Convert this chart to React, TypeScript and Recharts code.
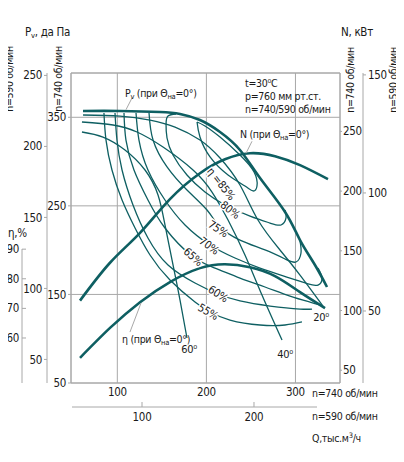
import React from "react";
import {
  CartesianGrid,
  ComposedChart,
  Line,
  ReferenceDot,
  ReferenceLine,
  XAxis,
  YAxis
} from "recharts";

type Pt = { q: number; v: number };
const pts = (rows: number[][]): Pt[] => rows.map(([q, v]) => ({ q, v }));

// Q (тыс.м3/ч, n=740) vs Pv (да Па, n=740)
const pvTheta0 = pts([
  [61.5, 357.1], [103, 357.1], [147.9, 356], [170.4, 353.7], [192.8, 346.9], [215.3, 333.4],
  [237.7, 313.1], [260.2, 281.4], [288.3, 243.1], [305.1, 211.4], [321.9, 183.2], [335.4, 158.4]
]);
const pvTheta20 = pts([
  [61.5, 352.6], [103, 351.4], [136.7, 346.9], [164.8, 339], [192.8, 324.3], [215.3, 304],
  [237.7, 273.5], [257.9, 234], [282.6, 200.2], [305.1, 171.9], [330.9, 136.9]
]);
const pvTheta40 = pts([
  [60.3, 344.7], [95.2, 341.3], [122.1, 333.4], [151.3, 316.4], [185, 290.5], [206.3, 265.6],
  [224.3, 234], [243.3, 194.5], [262.4, 149.4], [284.9, 98.5]
]);
const pvTheta60 = pts([
  [60.3, 333.4], [83.9, 327.7], [108.6, 313.1], [131.1, 290.5], [145.7, 262.3], [153.5, 228.4],
  [161.4, 188.9], [170.4, 143.7], [178.2, 100.8]
]);

// iso-efficiency lines
const eta85 = pts([
  [189.5, 344.7], [192.8, 327.7], [204.1, 305.2], [224.3, 284.8], [243.3, 272.4], [252.3, 266.8],
  [256.8, 272.4], [253.5, 288.2], [237.7, 307.4], [215.3, 327.7], [198.4, 340.2], [189.5, 344.7]
]);
const eta80 = pts([
  [165.9, 353.7], [156.9, 351.4], [154.7, 342.4], [155.8, 326.6], [162.5, 307.4], [178.2, 284.8],
  [198.4, 265.6], [220.9, 251], [249, 238.5], [271.4, 230.6], [283.8, 228.4], [289.4, 236.3], [288.3, 245.3]
]);
const eta75 = pts([
  [135.6, 354.8], [140.1, 324.3], [155.8, 293.9], [178.2, 267.9], [200.7, 245.3], [215.3, 226.1],
  [237.7, 211.4], [265.8, 200.2], [288.3, 190], [300.6, 186.6], [306.2, 196.8], [305.1, 210.3]
]);
const eta70 = pts([
  [121, 354.8], [124.3, 324.3], [134.4, 290.5], [153.5, 256.6], [176, 228.4], [204.1, 205.8],
  [232.1, 191.1], [260.2, 179.8], [293.9, 168.5], [314.1, 161.8], [325.3, 160.6], [329.8, 168.5], [325.3, 179.8]
]);
const eta65 = pts([
  [107.5, 354.8], [109.7, 324.3], [118.7, 290.5], [134.4, 256.6], [153.5, 225], [183.8, 193.4],
  [209.7, 179.8], [237.7, 168.5], [265.8, 158.4], [293.9, 148.2], [316.3, 141.4], [327.5, 138.1]
]);
const eta60 = pts([
  [97.4, 354.8], [99.6, 324.3], [105.3, 290.5], [117.6, 251], [134.4, 213.7], [156.9, 183.2],
  [187.2, 162.9], [213, 150.5], [237.7, 142.6], [271.4, 136.9], [305.1, 133.5], [318.6, 133.5]
]);
const eta55 = pts([
  [85, 354.8], [87.3, 324.3], [94, 290.5], [105.3, 256.6], [119.9, 225], [136.7, 194.5],
  [159.1, 166.3], [187.2, 141.4], [204.1, 130.2], [226.5, 121.1], [260.2, 115.5], [288.3, 115.5], [307.3, 118.9]
]);

// Q vs N (кВт, n=740)
const nTheta0 = pts([
  [58.1, 108.3], [91.8, 140], [125.5, 165], [159.1, 193.3], [192.8, 215], [220.9, 226.7],
  [249, 231.7], [277, 229.2], [305.1, 221.7], [336.5, 210]
]);
// Q vs η (%)
const effTheta0 = pts([
  [58.1, 53.3], [91.8, 63.4], [125.5, 72.1], [159.1, 78.9], [192.8, 83.6], [220.9, 84.9],
  [249, 83.9], [277, 80.9], [305.1, 75.5], [333.2, 70.1]
]);

const isoLabels = ["η =85%", "80%", "75%", "70%", "65%", "60%", "55%"];
const isoLabelQ = [216.4, 226.5, 213, 202.9, 185, 213, 201.8];
const isoLabelP = [274.7, 245.3, 223.9, 204.7, 192.3, 150.5, 130.2];
const isoAngles = [52, 38, 33, 36, 42, 33, 30];

const thetaLabels = ["20⁰", "40⁰", "60⁰"];
const thetaLabelQ = [328.7, 288.3, 180.5];
const thetaLabelP = [124.5, 82.7, 87.3];

const qTicks740 = [100, 200, 300];
const qTicks590 = [100, 200];
const pvTicks740 = [50, 150, 250, 350];
const pvTicks590 = [50, 100, 150, 200, 250];
const etaTicks = [60, 70, 80, 90];
const nTicks740 = [50, 100, 150, 200, 250];
const nTicks590 = [50, 100, 150];

// axis ids: stacking follows the id order (first = next to the plot)
const Q740 = "a_q740";
const Q590 = "b_q590";
const PV740 = "a_pv740";
const PV590 = "b_pv590";
const ETA = "c_eta";
const N740 = "a_n740";
const N590 = "b_n590";

const TEAL = "#0e5f62";
const GRID = "#a8a8a8";
const INK = "#1a1a1a";
const FONT = "'Liberation Sans Narrow', 'DejaVu Sans Condensed', 'Arial Narrow', sans-serif";
const tickStyle = { fill: INK, fontSize: 11.5, fontFamily: FONT, letterSpacing: -0.3 };

const halo = { stroke: "#fff", strokeWidth: 3, paintOrder: "stroke" as const };

function rotated(text: string, angle: number, size = 11) {
  return (props: any) => {
    const vb = props.viewBox || {};
    const x = (vb.x ?? 0) + (vb.width ?? 0) / 2;
    const y = (vb.y ?? 0) + (vb.height ?? 0) / 2;
    return (
      <text
        x={x}
        y={y}
        transform={`rotate(${angle} ${x} ${y})`}
        textAnchor="middle"
        dominantBaseline="central"
        fontFamily={FONT}
        fontSize={size}
        letterSpacing={-0.3}
        fill={INK}
        {...halo}
      >
        {text}
      </text>
    );
  };
}

function Q590Tick(props: any) {
  const { x, y, payload } = props;
  return (
    <g>
      <line x1={x} x2={x} y1={y - 5} y2={y} stroke={GRID} />
      <text x={x} y={y + 14} textAnchor="middle" fontFamily={FONT} fontSize={11.5} letterSpacing={-0.3} fill={INK}>
        {payload.value}
      </text>
    </g>
  );
}

// η axis: dash on the inner side of the line, number to its left
function EtaTick(props: any) {
  const { y, payload } = props;
  return (
    <g>
      <line x1={22} x2={26} y1={y} y2={y} stroke={GRID} />
      <text x={19} y={y} dy="0.35em" textAnchor="end" fontFamily={FONT} fontSize={11.5} letterSpacing={-0.3} fill={INK}>
        {payload.value}
      </text>
    </g>
  );
}

function thin(data: Pt[], key: string) {
  return (
    <Line
      key={key}
      data={data}
      dataKey="v"
      xAxisId={Q740}
      yAxisId={PV740}
      type="natural"
      stroke={TEAL}
      strokeWidth={1.3}
      dot={false}
      activeDot={false}
      isAnimationActive={false}
    />
  );
}

function Sub({ children }: { children: React.ReactNode }) {
  return <tspan fontSize={7.5} dy={2}>{children}</tspan>;
}

export default function App() {
  return (
    <div style={{ position: "relative", margin: -8, width: 404, height: 462, background: "#fff" }}>
      <ComposedChart width={404} height={462} margin={{ top: 73, right: 0, bottom: 0, left: 0 }}>
        <CartesianGrid xAxisId={Q740} yAxisId={PV740} stroke={GRID} strokeWidth={1} />
        <XAxis
          xAxisId={Q740}
          dataKey="q"
          type="number"
          domain={[48, 350]}
          allowDataOverflow
          ticks={qTicks740}
          height={24}
          tickSize={3}
          tickLine={false}
          axisLine={{ stroke: GRID }}
          tick={tickStyle}
        />
        <XAxis
          xAxisId={Q590}
          dataKey="q"
          type="number"
          domain={[36.6, 276.8]}
          allowDataOverflow
          ticks={qTicks590}
          height={55}
          tickSize={0}
          tickMargin={0}
          tickLine={false}
          axisLine={false}
          tick={<Q590Tick />}
        />
        <YAxis
          yAxisId={PV740}
          orientation="left"
          type="number"
          domain={[50, 400]}
          allowDataOverflow
          ticks={pvTicks740}
          width={24}
          tickSize={3}
          axisLine={{ stroke: GRID }}
          tickLine={{ stroke: GRID }}
          tick={tickStyle}
        />
        <YAxis
          yAxisId={PV590}
          orientation="left"
          type="number"
          domain={[33.4, 251.7]}
          allowDataOverflow
          ticks={pvTicks590}
          width={25}
          tickSize={3}
          axisLine={{ stroke: GRID }}
          tickLine={{ stroke: GRID }}
          tick={tickStyle}
        />
        <YAxis
          yAxisId={ETA}
          orientation="left"
          type="number"
          domain={[44.8, 149.5]}
          allowDataOverflow
          ticks={etaTicks}
          width={22}
          tickSize={0}
          tickMargin={0}
          axisLine={false}
          tickLine={false}
          tick={<EtaTick />}
        />
        <YAxis
          yAxisId={N740}
          orientation="right"
          type="number"
          domain={[39.3, 298.9]}
          allowDataOverflow
          ticks={nTicks740}
          width={23}
          tickSize={2}
          tickMargin={1}
          axisLine={{ stroke: GRID }}
          tickLine={{ stroke: GRID }}
          tick={tickStyle}
        />
        <YAxis
          yAxisId={N590}
          orientation="right"
          type="number"
          domain={[19.5, 150.8]}
          allowDataOverflow
          ticks={nTicks590}
          width={41}
          tickSize={3}
          axisLine={{ stroke: GRID }}
          tickLine={{ stroke: GRID }}
          tick={tickStyle}
        />
        <ReferenceLine xAxisId={Q740} yAxisId={PV740} y={400} stroke={GRID} ifOverflow="visible" />

        {thin(eta55, "e55")}
        {thin(eta60, "e60")}
        {thin(eta65, "e65")}
        {thin(eta70, "e70")}
        {thin(eta75, "e75")}
        {thin(eta80, "e80")}
        {thin(eta85, "e85")}
        {thin(pvTheta20, "t20")}
        {thin(pvTheta40, "t40")}
        {thin(pvTheta60, "t60")}

        <Line data={pvTheta0} dataKey="v" xAxisId={Q740} yAxisId={PV740} type="natural" stroke={TEAL}
          strokeWidth={2.6} dot={false} activeDot={false} isAnimationActive={false} />
        <Line data={nTheta0} dataKey="v" xAxisId={Q740} yAxisId={N740} type="natural" stroke={TEAL}
          strokeWidth={2.6} dot={false} activeDot={false} isAnimationActive={false} />
        <Line data={effTheta0} dataKey="v" xAxisId={Q740} yAxisId={ETA} type="natural" stroke={TEAL}
          strokeWidth={2.6} dot={false} activeDot={false} isAnimationActive={false} />

        {/* leader lines */}
        <ReferenceLine xAxisId={Q740} yAxisId={PV740} stroke={GRID}
          segment={[{ x: 116.5, y: 371.8 }, { x: 109.7, y: 358.5 }]} ifOverflow="visible" />
        <ReferenceLine xAxisId={Q740} yAxisId={N740} stroke={GRID}
          segment={[{ x: 251.2, y: 241.7 }, { x: 244.5, y: 231.7 }]} ifOverflow="visible" />
        <ReferenceLine xAxisId={Q740} yAxisId={ETA} stroke={GRID}
          segment={[{ x: 114.2, y: 62 }, { x: 126.6, y: 71.8 }]} ifOverflow="visible" />

        {isoLabels.map((t, i) => (
          <ReferenceDot key={t} xAxisId={Q740} yAxisId={PV740} x={isoLabelQ[i]} y={isoLabelP[i]} r={0}
            fill="none" stroke="none" label={rotated(t, isoAngles[i])} />
        ))}
        {thetaLabels.map((t, i) => (
          <ReferenceDot key={t} xAxisId={Q740} yAxisId={PV740} x={thetaLabelQ[i]} y={thetaLabelP[i]} r={0}
            fill="none" stroke="none" label={rotated(t, 0)} />
        ))}
      </ComposedChart>

      <svg width={404} height={462} style={{ position: "absolute", left: 0, top: 0, pointerEvents: "none" }}
        fontFamily={FONT} fill={INK} fontSize={10.5} letterSpacing={-0.3}>
        <line x1={22} x2={22} y1={249} y2={383} stroke={GRID} />
        <line x1={72} x2={317} y1={407} y2={407} stroke={GRID} />

        <text x={25} y={36} fontSize={11.5}>P<Sub>v</Sub><tspan dy={-2}>, да Па</tspan></text>
        <text x={341} y={36} fontSize={11.5}>N, кВт</text>
        <text x={8} y={237} fontSize={11.5}>η,%</text>

        <text transform="translate(13 79) rotate(-90)" textAnchor="middle">n=590 об/мин</text>
        <text transform="translate(62 79) rotate(-90)" textAnchor="middle">n=740 об/мин</text>
        <text transform="translate(354 80) rotate(-90)" textAnchor="middle">n=740 об/мин</text>
        <text transform="translate(397 80) rotate(-90)" textAnchor="middle">n=590 об/мин</text>

        <text x={245} y={87}>t=30⁰C</text>
        <text x={245} y={100}>p=760 мм рт.ст.</text>
        <text x={245} y={113}>n=740/590 об/мин</text>

        <text x={125} y={97}>P<Sub>v</Sub><tspan dy={-2}> (при Θ</tspan><Sub>на</Sub><tspan dy={-2}>=0°)</tspan></text>
        <text x={240} y={138}>N (при Θ<Sub>на</Sub><tspan dy={-2}>=0°)</tspan></text>
        <text x={122} y={343}>η (при Θ<Sub>на</Sub><tspan dy={-2}>=0°)</tspan></text>

        <text x={312} y={397}>n=740 об/мин</text>
        <text x={312} y={420}>n=590 об/мин</text>
        <text x={312} y={442}>Q,тыс.м<tspan fontSize={7.5} dy={-4}>3</tspan><tspan dy={4}>/ч</tspan></text>
      </svg>
    </div>
  );
}
